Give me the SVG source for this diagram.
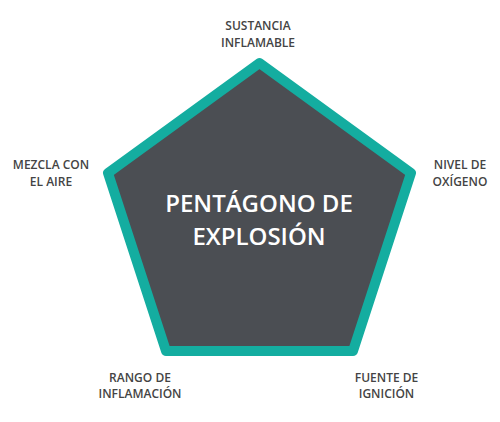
<svg xmlns="http://www.w3.org/2000/svg" width="500" height="422" viewBox="0 0 500 422">
<style>
.lbl{font-family:"Open Sans","Liberation Sans",sans-serif;font-weight:600;font-size:12px;fill:#444444;text-anchor:middle}
.ttl{font-family:"Open Sans","Liberation Sans",sans-serif;font-weight:600;font-size:24px;fill:#ffffff;text-anchor:middle}
</style>
<rect width="500" height="422" fill="#ffffff"/>
<g id="pentagon">
<polygon points="259.5,63 411,173 353,351 166,351 108,173" fill="#4b4e53" stroke="#14ada0" stroke-width="10" stroke-linejoin="round"/>
<text class="ttl" x="259" y="212">PENTÁGONO DE</text>
<text class="ttl" x="259" y="245">EXPLOSIÓN</text>
</g>
<g id="sustancia"><text class="lbl" x="258" y="30">SUSTANCIA</text><text class="lbl" x="258" y="47">INFLAMABLE</text></g>
<g id="mezcla"><text class="lbl" x="51" y="169">MEZCLA CON</text><text class="lbl" x="51" y="186">EL AIRE</text></g>
<g id="nivel"><text class="lbl" x="460" y="169">NIVEL DE</text><text class="lbl" x="460" y="186">OXÍGENO</text></g>
<g id="rango"><text class="lbl" x="140" y="382">RANGO DE</text><text class="lbl" x="140" y="398">INFLAMACIÓN</text></g>
<g id="fuente"><text class="lbl" x="386.5" y="382">FUENTE DE</text><text class="lbl" x="386.5" y="398">IGNICIÓN</text></g>
<g id="connectors"/>
</svg>
